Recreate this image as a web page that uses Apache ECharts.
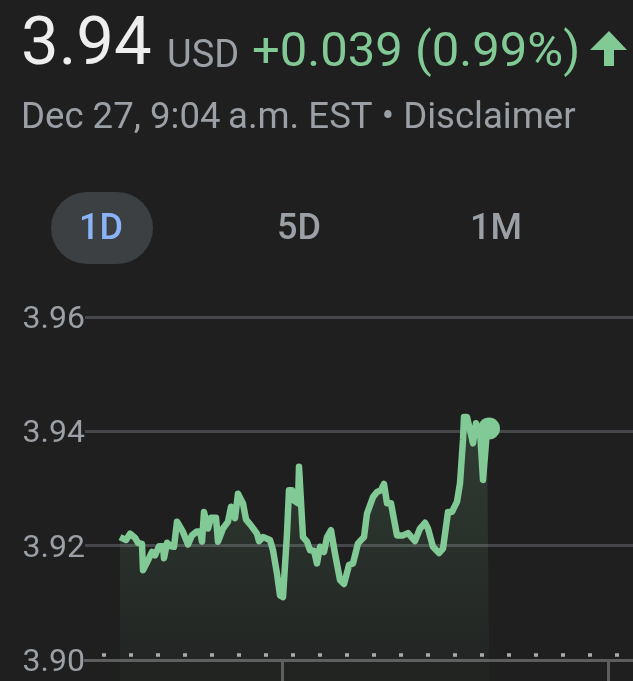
<!DOCTYPE html>
<html>
<head>
<meta charset="utf-8">
<style>
  html, body { margin: 0; padding: 0; background: #1f1f1f; }
  #chart { width: 633px; height: 681px; }
</style>
<script src="https://cdn.jsdelivr.net/npm/echarts@6/dist/echarts.min.js"></script>
</head>
<body>
<div id="chart"></div>
<script>
  const elapsed = [35, 41, 45, 50, 53, 57, 58, 64, 67, 70, 74, 78, 79, 82, 86, 89, 92, 98, 103, 107,
    112, 115, 117, 119, 123, 126, 131, 133, 138, 143, 146, 150, 153, 158, 161, 167, 172, 174, 178, 185,
    188, 192, 195, 198, 202, 204, 207, 208, 213, 214, 215, 218, 222, 225, 229, 232, 235, 239, 242, 246,
    250, 255, 259, 264, 268, 273, 279, 282, 288, 292, 296, 299, 302, 306, 312, 318, 323, 330, 335, 340,
    343, 348, 354, 358, 363, 367, 372, 375, 378, 379, 382, 388, 391, 393, 395, 398, 402, 404];
  const prices = [3.9215, 3.9210, 3.9221, 3.9214, 3.9205, 3.9203, 3.9157, 3.9178, 3.9189, 3.9183, 3.9199, 3.9199, 3.9178, 3.9205, 3.9199, 3.9198, 3.9242, 3.9224, 3.9202, 3.9218,
    3.9225, 3.9225, 3.9207, 3.9259, 3.9230, 3.9249, 3.9249, 3.9207, 3.9230, 3.9242, 3.9268, 3.9248, 3.9291, 3.9274, 3.9246, 3.9233, 3.9221, 3.9208, 3.9215, 3.9210,
    3.9192, 3.9151, 3.9113, 3.9110, 3.9221, 3.9297, 3.9297, 3.9280, 3.9274, 3.9338, 3.9338, 3.9215, 3.9207, 3.9192, 3.9191, 3.9169, 3.9198, 3.9189, 3.9215, 3.9227,
    3.9186, 3.9140, 3.9133, 3.9166, 3.9169, 3.9204, 3.9215, 3.9256, 3.9285, 3.9294, 3.9297, 3.9308, 3.9274, 3.9274, 3.9218, 3.9218, 3.9222, 3.9208, 3.9230, 3.9240,
    3.9230, 3.9198, 3.9187, 3.9195, 3.9259, 3.9259, 3.9277, 3.9309, 3.9385, 3.9425, 3.9425, 3.9379, 3.9414, 3.9396, 3.9402, 3.9315, 3.9402, 3.9405];
  const prevClose = 3.901;
  const axisTicks = [197, 523];
  const rangeLabels = ['1D', '5D', '1M'];

  const GREEN = '#81c995';
  const GREY = '#9aa0a6';
  const LINE = '#46474a';
  const AXIS = '#5c5d5f';
  const FONT = 'Roboto, sans-serif';

  const points = elapsed.map((t, i) => [t, prices[i]]);
  const last = points[points.length - 1];

  function label(text, x, y, size, fill, weight, align) {
    return {
      type: 'text',
      x: x,
      y: y,
      style: {
        text: text,
        fill: fill,
        font: (weight || 400) + ' ' + size + 'px ' + FONT,
        textAlign: align || 'left',
        textVerticalAlign: 'middle'
      }
    };
  }

  const chart = echarts.init(document.getElementById('chart'));

  chart.setOption({
    backgroundColor: '#1f1f1f',
    animation: false,
    grid: [
      { left: 85, right: 0, top: 317, height: 343 },
      { left: 85, right: 0, top: 660, height: 21 }
    ],
    xAxis: [
      {
        type: 'value',
        min: 0,
        max: 548,
        splitLine: { show: false },
        axisLabel: { show: false },
        axisLine: { show: true, onZero: false, lineStyle: { color: AXIS, width: 3 } },
        axisTick: { show: true, customValues: axisTicks, length: 21, lineStyle: { color: AXIS, width: 3 } }
      },
      { type: 'value', gridIndex: 1, min: 0, max: 548, show: false }
    ],
    yAxis: [
      {
        type: 'value',
        min: 3.90,
        max: 3.96,
        interval: 0.02,
        axisLine: { show: false },
        axisTick: { show: false },
        axisLabel: {
          margin: 0,
          verticalAlign: 'top',
          lineHeight: 6,
          color: GREY,
          fontFamily: FONT,
          fontSize: 32,
          formatter: v => v.toFixed(2)
        },
        splitLine: { lineStyle: { color: LINE, width: 3 } }
      },
      { type: 'value', gridIndex: 1, min: 0, max: 1, show: false }
    ],
    series: [
      {
        type: 'line',
        data: points,
        showSymbol: false,
        silent: true,
        lineStyle: { color: GREEN, width: 6.5, join: 'round' },
        areaStyle: {
          color: new echarts.graphic.LinearGradient(0, 0, 0, 1, [
            { offset: 0, color: 'rgba(129,201,149,0.25)' },
            { offset: 1, color: 'rgba(129,201,149,0.05)' }
          ])
        },
        markLine: {
          silent: true,
          symbol: 'none',
          label: { show: false },
          lineStyle: { color: '#aaaaaa', width: 3.5, type: [4, 23] },
          data: [[{ coord: [17, prevClose] }, { coord: [548, prevClose] }]]
        }
      },
      {
        // tint of the session below the axis line
        type: 'line',
        xAxisIndex: 1,
        yAxisIndex: 1,
        data: [[elapsed[0], 1], [last[0], 1]],
        showSymbol: false,
        silent: true,
        lineStyle: { width: 0 },
        areaStyle: { color: 'rgba(129,201,149,0.04)' }
      },
      {
        type: 'scatter',
        data: [last],
        symbolSize: 22,
        silent: true,
        itemStyle: { color: GREEN, opacity: 1 }
      }
    ],
    graphic: [
      label('3.94', 21, 47, 67, '#eeeeee'),
      label('USD', 167, 57, 38, GREY),
      label('+0.039 (0.99%)', 252, 54, 49, GREEN),
      { type: 'polygon', shape: { points: [[609, 31], [627, 50], [590, 50]] }, style: { fill: GREEN } },
      { type: 'rect', shape: { x: 604, y: 49, width: 10, height: 17 }, style: { fill: GREEN } },
      label('Dec 27, 9:04\u2009a.m. EST \u2022 Disclaimer', 21, 119, 36.6, GREY),
      { type: 'rect', shape: { x: 51, y: 192, width: 102, height: 72, r: 36 }, style: { fill: '#3c4043' } },
      label(rangeLabels[0], 101, 230, 36, '#8ab4f8', 500, 'center'),
      label(rangeLabels[1], 299, 230, 36, GREY, 500, 'center'),
      label(rangeLabels[2], 496, 230, 36, GREY, 500, 'center')
    ]
  });
</script>
</body>
</html>
